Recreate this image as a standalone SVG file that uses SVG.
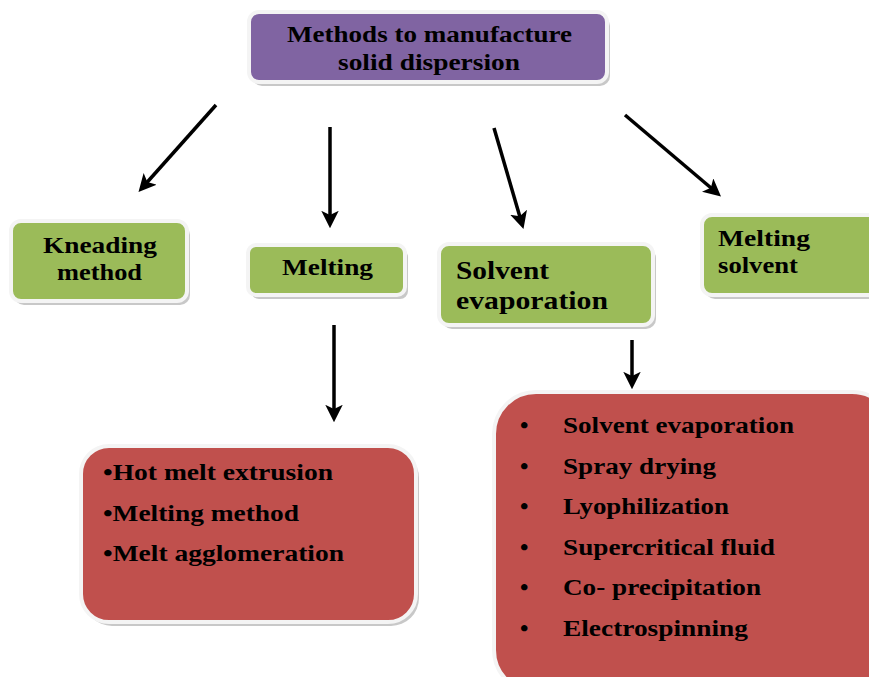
<svg xmlns="http://www.w3.org/2000/svg" width="869" height="677" viewBox="0 0 869 677">
<defs>
<style>
.t{font-family:"Liberation Serif","Times New Roman",serif;font-weight:bold;fill:#000;}
.sh{fill:#c8c8c8;}
.box{stroke:#f4f4f4;stroke-width:4;}
.p{fill:#8064A2;}
.g{fill:#9BBB59;}
.r{fill:#C0504D;}
.ar{stroke:#000;stroke-width:3.5;fill:none;marker-end:url(#ah);}
</style>
<marker id="ah" markerWidth="5" markerHeight="5" refX="3.5" refY="2.5" orient="auto" markerUnits="strokeWidth">
<path d="M0,0 L5,2.5 L0,5 L1.2,2.5 Z" fill="#000"/>
</marker>
</defs>
<rect width="869" height="677" fill="#fff"/>
<g id="top">
<rect class="sh" x="252" y="16" width="358" height="70" rx="10"/>
<rect class="box p" x="249" y="12" width="358" height="70" rx="10"/>
<text class="t" x="287" y="42" font-size="24" textLength="285" lengthAdjust="spacingAndGlyphs">Methods to manufacture</text>
<text class="t" x="338" y="70" font-size="24" textLength="182" lengthAdjust="spacingAndGlyphs">solid dispersion</text>
</g>
<g id="kneading">
<rect class="sh" x="14" y="225" width="176" height="80" rx="10"/>
<rect class="box g" x="11" y="221" width="176" height="80" rx="10"/>
<text class="t" x="43" y="253" font-size="23" textLength="114" lengthAdjust="spacingAndGlyphs">Kneading</text>
<text class="t" x="57" y="280" font-size="23" textLength="85" lengthAdjust="spacingAndGlyphs">method</text>
</g>
<g id="melting">
<rect class="sh" x="251" y="249" width="157" height="50" rx="8"/>
<rect class="box g" x="248" y="245" width="157" height="50" rx="8"/>
<text class="t" x="282" y="275" font-size="23" textLength="91" lengthAdjust="spacingAndGlyphs">Melting</text>
</g>
<g id="solvent">
<rect class="sh" x="442" y="248" width="214" height="81" rx="10"/>
<rect class="box g" x="439" y="244" width="214" height="81" rx="10"/>
<text class="t" x="456" y="279" font-size="25" textLength="93" lengthAdjust="spacingAndGlyphs">Solvent</text>
<text class="t" x="456" y="309" font-size="25" textLength="152" lengthAdjust="spacingAndGlyphs">evaporation</text>
</g>
<g id="meltsolvent">
<rect class="sh" x="705" y="219" width="180" height="80" rx="10"/>
<rect class="box g" x="702" y="215" width="180" height="80" rx="10"/>
<text class="t" x="718" y="246" font-size="23" textLength="92" lengthAdjust="spacingAndGlyphs">Melting</text>
<text class="t" x="718" y="273" font-size="23" textLength="80" lengthAdjust="spacingAndGlyphs">solvent</text>
</g>
<g id="meltlist">
<rect class="sh" x="84" y="450" width="335" height="176" rx="28"/>
<rect class="box r" x="81" y="446" width="335" height="176" rx="28"/>
<text class="t" x="103" y="480" font-size="24" textLength="230" lengthAdjust="spacingAndGlyphs">•Hot melt extrusion</text>
<text class="t" x="103" y="521" font-size="24" textLength="196" lengthAdjust="spacingAndGlyphs">•Melting method</text>
<text class="t" x="103" y="561" font-size="24" textLength="241" lengthAdjust="spacingAndGlyphs">•Melt agglomeration</text>
</g>
<g id="solventlist">
<rect class="sh" x="497" y="396" width="400" height="300" rx="42"/>
<rect class="box r" x="494" y="392" width="400" height="300" rx="42"/>
<g class="t" font-size="24">
<text x="520" y="433">•</text><text x="563" y="433" textLength="231" lengthAdjust="spacingAndGlyphs">Solvent evaporation</text>
<text x="520" y="474">•</text><text x="563" y="474" textLength="153" lengthAdjust="spacingAndGlyphs">Spray drying</text>
<text x="520" y="514">•</text><text x="563" y="514" textLength="166" lengthAdjust="spacingAndGlyphs">Lyophilization</text>
<text x="520" y="555">•</text><text x="563" y="555" textLength="212" lengthAdjust="spacingAndGlyphs">Supercritical fluid</text>
<text x="520" y="595">•</text><text x="563" y="595" textLength="198" lengthAdjust="spacingAndGlyphs">Co- precipitation</text>
<text x="520" y="636">•</text><text x="563" y="636" textLength="185" lengthAdjust="spacingAndGlyphs">Electrospinning</text>
</g>
</g>
<g id="connectors">
<line class="ar" x1="216" y1="105" x2="142" y2="188"/>
<line class="ar" x1="330" y1="127" x2="330" y2="223" stroke-width="4.5"/>
<line class="ar" x1="494" y1="128" x2="522" y2="224"/>
<line class="ar" x1="625" y1="115" x2="717" y2="193"/>
<line class="ar" x1="334" y1="325" x2="334" y2="417"/>
<line class="ar" x1="632" y1="340" x2="632" y2="384"/>
</g>
</svg>
